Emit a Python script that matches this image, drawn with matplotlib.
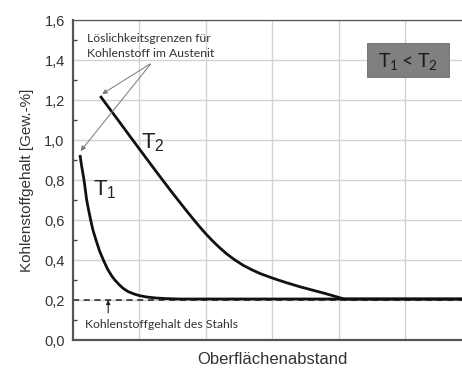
import matplotlib
matplotlib.use("Agg")
import matplotlib.pyplot as plt
from matplotlib.patches import Rectangle
from matplotlib.ticker import MultipleLocator, FuncFormatter

# Carbon profiles at two temperatures (distance in arbitrary units, C in wt.-%)
t1_dist = [0.105, 0.13, 0.166, 0.206, 0.235, 0.266, 0.30, 0.346, 0.40, 0.457,
           0.52, 0.58, 0.63, 0.70, 0.76, 0.83, 0.92, 1.00, 1.11, 1.25, 1.40,
           1.60, 6.0]
t1_carbon = [0.925, 0.87, 0.80, 0.70, 0.65, 0.60, 0.55, 0.50, 0.445, 0.40,
             0.355, 0.322, 0.30, 0.275, 0.257, 0.242, 0.23, 0.222, 0.215, 0.21,
             0.207, 0.205, 0.205]

t2_dist = [0.41, 0.55, 0.70, 0.85, 1.00, 1.15, 1.31, 1.45, 1.56, 1.70, 1.81,
           1.90, 2.00, 2.10, 2.20, 2.31, 2.43, 2.56, 2.70, 2.82, 3.00, 3.20,
           3.42, 3.60, 3.77, 3.92, 4.08, 6.0]
t2_carbon = [1.22, 1.157, 1.090, 1.022, 0.955, 0.888, 0.817, 0.756, 0.709, 0.650,
             0.605, 0.569, 0.531, 0.496, 0.464, 0.432, 0.402, 0.374, 0.350, 0.332,
             0.310, 0.288, 0.266, 0.250, 0.235, 0.221, 0.205, 0.205]

steel_carbon = 0.2
y_ticks = [0.0, 0.2, 0.4, 0.6, 0.8, 1.0, 1.2, 1.4, 1.6]

W, H = 462, 370
fig = plt.figure(figsize=(W / 100, H / 100), dpi=100)
plt.rcParams['font.family'] = ['Liberation Sans', 'DejaVu Sans']

def px(x0, y0, w, h):
    return [x0 / W, 1 - (y0 + h) / H, w / W, h / H]

ax = fig.add_axes(px(73, 20, 398.4, 320))
ax.set_xlim(0, 6)
ax.set_ylim(0, 1.6)

# grid
ax.set_xticks([1, 2, 3, 4, 5])
ax.set_yticks(y_ticks)
ax.yaxis.set_minor_locator(MultipleLocator(0.1))
ax.grid(True, which='major', color='#d2d2d2', linewidth=1.0)
ax.set_axisbelow(True)
ax.tick_params(axis='x', length=0, labelbottom=False)
ax.tick_params(axis='y', which='major', direction='in', length=0,
               labelsize=10.5, labelcolor='#333333', pad=6)
ax.tick_params(axis='y', which='minor', direction='in', length=3,
               width=1.0, color='#444444')
ax.yaxis.set_major_formatter(FuncFormatter(lambda v, p: f"{v:.1f}".replace('.', ',')))

for side in ['left', 'bottom']:
    ax.spines[side].set_color('#555555')
    ax.spines[side].set_linewidth(1.6)
ax.spines['top'].set_color('#555555')
ax.spines['top'].set_linewidth(0.9)
ax.spines['right'].set_visible(False)

# steel base carbon content
ax.axhline(steel_carbon, color='#222222', linewidth=1.1, linestyle=(0, (4, 3)), zorder=2)

# profiles
ax.plot(t1_dist, t1_carbon, color='#111111', linewidth=2.0, zorder=3,
        solid_capstyle='butt', solid_joinstyle='round')
ax.plot(t2_dist, t2_carbon, color='#111111', linewidth=2.0, zorder=3,
        solid_capstyle='butt', solid_joinstyle='round')

ax.set_ylabel('Kohlenstoffgehalt [Gew.-%]', fontsize=11, color='#333333', labelpad=7)
ax.set_xlabel('Oberflächenabstand', fontsize=12, color='#333333', labelpad=9)

# curve labels
ax.text(0.30, 0.75, r'$\mathregular{T_1}$', fontsize=16, color='#222222',
        ha='left', va='center')
ax.text(1.03, 0.985, r'$\mathregular{T_2}$', fontsize=16, color='#222222',
        ha='left', va='center')

note_font = ['Lato', 'DejaVu Sans']
ax.text(0.21, 1.47, 'Löslichkeitsgrenzen für\nKohlenstoff im Austenit',
        fontsize=8.8, family=note_font, color='#333333', ha='left', va='center',
        linespacing=1.45)

arrow_kw = dict(arrowstyle='-|>', color='#777777', lw=0.7,
                mutation_scale=7, shrinkA=0, shrinkB=0)
ax.annotate('', xy=(t2_dist[0] + 0.03, t2_carbon[0] + 0.01), xytext=(1.16, 1.38),
            arrowprops=arrow_kw)
ax.annotate('', xy=(t1_dist[0] + 0.01, t1_carbon[0] + 0.02), xytext=(1.17, 1.38),
            arrowprops=arrow_kw)

ax.text(0.18, 0.08, 'Kohlenstoffgehalt des Stahls', fontsize=8.8, family=note_font,
        color='#333333', ha='left', va='center')
ax.annotate('', xy=(0.53, steel_carbon), xytext=(0.53, 0.135),
            arrowprops=dict(arrowstyle='-|>', color='#222222', lw=0.8,
                            mutation_scale=6, shrinkA=0, shrinkB=0))

# temperature relation box
fig.patches.append(Rectangle((367 / W, 1 - 77 / H), 82 / W, 34 / H,
                             transform=fig.transFigure, facecolor='#808080',
                             edgecolor='#6a6a6a', linewidth=0.6, zorder=5))
fig.text(408 / W, 1 - 61 / H, r'$\mathregular{T_1 < T_2}$', fontsize=14,
         family=note_font, color='#1a1a1a', ha='center', va='center', zorder=6)

fig.savefig('out.png', dpi=100)
